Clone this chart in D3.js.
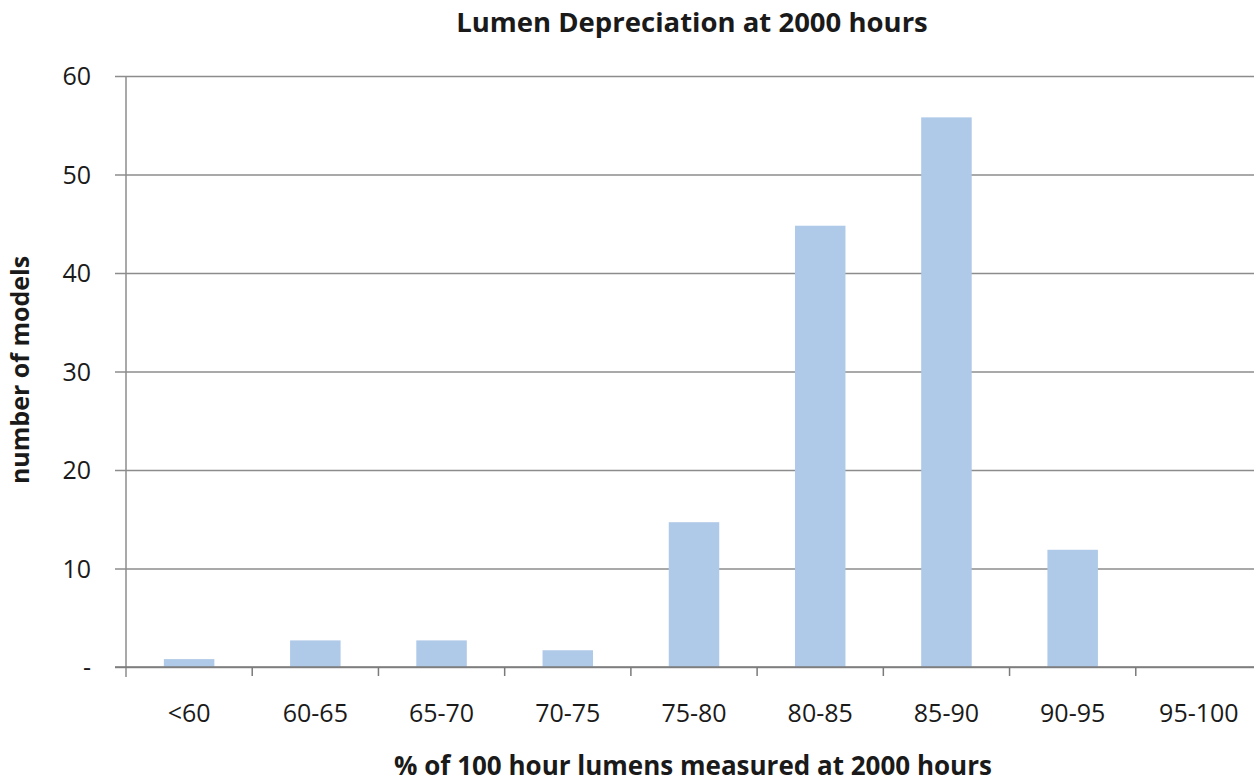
<!DOCTYPE html>
<html>
<head>
<meta charset="utf-8">
<script src="https://cdnjs.cloudflare.com/ajax/libs/d3/7.8.5/d3.min.js"></script>
<style>
  body { margin: 0; background: #fff; }
  svg text { font-family: "Open Sans", Lato, sans-serif; fill: #1a1a1a; }
</style>
</head>
<body>
<svg id="chart"></svg>
<script>
const categories = ['<60', '60-65', '65-70', '70-75', '75-80', '80-85', '85-90', '90-95', '95-100'];
const counts = [0.8, 2.7, 2.7, 1.7, 14.7, 44.8, 55.8, 11.9, 0];
const yTicks = [0, 10, 20, 30, 40, 50, 60];

const width = 1254, height = 782;
const svg = d3.select('#chart').attr('width', width).attr('height', height);

const plotLeft = 126, plotRight = 1262, plotTop = 76, plotBottom = 667;

const x = d3.scaleBand().domain(categories).range([plotLeft, plotRight]).paddingInner(0.6).paddingOuter(0.3);
const xb = d3.scaleBand().domain(categories).range([plotLeft, plotRight]);
const y = d3.scaleLinear().domain([0, 60]).range([plotBottom, plotTop]);

// gridlines
svg.append('g')
  .attr('transform', `translate(${plotLeft},0)`)
  .call(d3.axisLeft(y).tickValues(yTicks).tickSize(-(plotRight - plotLeft)).tickFormat(''))
  .call(g => g.select('.domain').remove())
  .call(g => g.selectAll('line').attr('stroke', '#8c8c8c').attr('stroke-width', 1.5).attr('x1', -11));

// bars
svg.append('g').selectAll('rect')
  .data(counts)
  .enter()
  .append('rect')
  .attr('x', (d, i) => x(categories[i]))
  .attr('y', d => y(d))
  .attr('width', x.bandwidth())
  .attr('height', d => y(0) - y(d))
  .attr('fill', '#afc9e8');

// y axis line
svg.append('line')
  .attr('x1', plotLeft).attr('x2', plotLeft)
  .attr('y1', plotTop).attr('y2', plotBottom + 10)
  .attr('stroke', '#8c8c8c').attr('stroke-width', 1.5);

// x axis line + ticks
svg.append('line')
  .attr('x1', plotLeft - 11).attr('x2', plotRight)
  .attr('y1', plotBottom).attr('y2', plotBottom)
  .attr('stroke', '#7a7a7a').attr('stroke-width', 1.5);
svg.append('g').selectAll('line')
  .data(categories.slice(1))
  .enter()
  .append('line')
  .attr('x1', d => xb(d)).attr('x2', d => xb(d))
  .attr('y1', plotBottom).attr('y2', plotBottom + 9)
  .attr('stroke', '#7a7a7a').attr('stroke-width', 1.5);

// y tick labels
svg.append('g').selectAll('text')
  .data(yTicks)
  .enter()
  .append('text')
  .attr('x', 91)
  .attr('y', d => y(d) + 9)
  .attr('text-anchor', 'end')
  .attr('font-size', 25)
  .text(d => d === 0 ? '-' : d);

// x tick labels
svg.append('g').selectAll('text')
  .data(categories)
  .enter()
  .append('text')
  .attr('x', d => xb(d) + xb.bandwidth() / 2)
  .attr('y', 722)
  .attr('text-anchor', 'middle')
  .attr('font-size', 25)
  .text(d => d);

// title
svg.append('text')
  .attr('x', 692).attr('y', 32)
  .attr('text-anchor', 'middle')
  .attr('font-size', 27.5).attr('font-weight', 'bold')
  .text('Lumen Depreciation at 2000 hours');

// x axis title
svg.append('text')
  .attr('x', 693).attr('y', 775)
  .attr('text-anchor', 'middle')
  .attr('font-size', 26).attr('font-weight', 'bold')
  .text('% of 100 hour lumens measured at 2000 hours');

// y axis title
svg.append('text')
  .attr('transform', 'translate(29,370) rotate(-90)')
  .attr('text-anchor', 'middle')
  .attr('font-size', 25).attr('font-weight', 'bold')
  .text('number of models');
</script>
</body>
</html>
